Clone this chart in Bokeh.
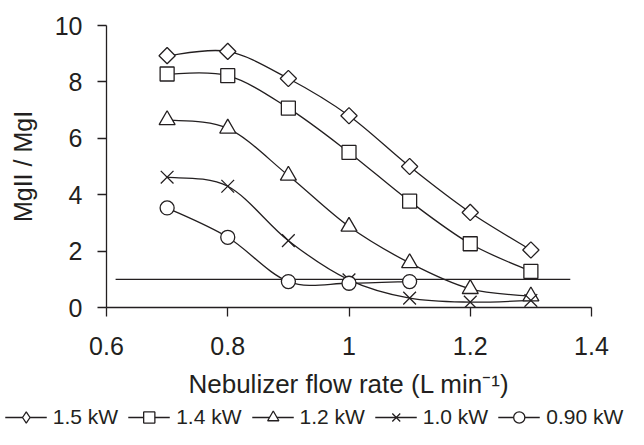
import numpy as np
from bokeh.plotting import figure
from bokeh.layouts import column
from bokeh.models import Range1d, FixedTicker, NumeralTickFormatter, Legend, LegendItem
from bokeh.embed import file_html
from bokeh.resources import INLINE

# ---- data ----
flow = [0.7, 0.8, 0.9, 1.0, 1.1, 1.2, 1.3]
kw15 = [8.93, 9.08, 8.12, 6.80, 5.00, 3.37, 2.04]
kw14 = [8.28, 8.22, 7.07, 5.50, 3.77, 2.26, 1.28]
kw12 = [6.65, 6.35, 4.68, 2.87, 1.58, 0.66, 0.40]
kw10 = [4.62, 4.30, 2.37, 0.98, 0.33, 0.19, 0.25]
flow09 = [0.7, 0.8, 0.9, 1.0, 1.1]
kw09 = [3.53, 2.49, 0.92, 0.86, 0.92]
ref_x = [0.615, 1.365]
ref_y = [1.0, 1.0]
labels = ["1.5 kW", "1.4 kW", "1.2 kW", "1.0 kW", "0.90 kW"]
x_ticks = [0.6, 0.8, 1.0, 1.2, 1.4]
y_ticks = [0, 2, 4, 6, 8, 10]

INK = "#231F20"
FONT = "Liberation Sans"


def smooth_segments(xs, ys):
    """Cubic Bezier control points (Catmull-Rom style, as in smoothed scatter lines)."""
    P = np.column_stack([xs, ys]).astype(float)
    n = len(P)
    x0, y0, x1, y1, cx0, cy0, cx1, cy1 = ([] for _ in range(8))
    for i in range(n - 1):
        p0 = P[i - 1] if i > 0 else P[i]
        p1 = P[i]
        p2 = P[i + 1]
        p3 = P[i + 2] if i + 2 < n else P[i + 1]
        c0 = p1 + (p2 - p0) / 6.0
        c1 = p2 - (p3 - p1) / 6.0
        x0.append(p1[0]); y0.append(p1[1]); x1.append(p2[0]); y1.append(p2[1])
        cx0.append(c0[0]); cy0.append(c0[1]); cx1.append(c1[0]); cy1.append(c1[1])
    return dict(x0=x0, y0=y0, x1=x1, y1=y1, cx0=cx0, cy0=cy0, cx1=cx1, cy1=cy1)


p = figure(width=628, height=405, x_range=Range1d(0.6, 1.4), y_range=Range1d(0, 10),
           output_backend="svg", toolbar_location=None,
           min_border_left=106, min_border_right=37, min_border_top=25, min_border_bottom=98)
p.frame_align = False
p.outline_line_color = None
p.grid.visible = False
p.background_fill_color = "white"
p.border_fill_color = "white"

for ax in (p.xaxis[0], p.yaxis[0]):
    ax.axis_line_color = INK
    ax.axis_line_width = 1.3
    ax.major_tick_line_color = INK
    ax.major_tick_line_width = 1.3
    ax.major_tick_in = 0
    ax.major_tick_out = 9
    ax.minor_tick_line_color = None
    ax.major_label_text_font = FONT
    ax.major_label_text_font_size = "25px"
    ax.major_label_text_color = INK
    ax.axis_label_text_font = FONT
    ax.axis_label_text_font_style = "normal"
    ax.axis_label_text_color = INK

p.xaxis[0].ticker = FixedTicker(ticks=x_ticks)
p.xaxis[0].formatter = NumeralTickFormatter(format="0.[0]")
p.xaxis[0].major_label_standoff = 20
p.xaxis[0].axis_label = "Nebulizer flow rate (L min\u207b\u00b9)"
p.xaxis[0].axis_label_text_font_size = "26px"
p.xaxis[0].axis_label_standoff = 11

p.yaxis[0].ticker = FixedTicker(ticks=y_ticks)
p.yaxis[0].major_label_standoff = 15
p.yaxis[0].axis_label = "MgII / MgI"
p.yaxis[0].axis_label_text_font_size = "25px"
p.yaxis[0].axis_label_standoff = 15

# reference line at ratio 1
p.line(ref_x, ref_y, line_color=INK, line_width=1.3)

series = [(flow, kw15), (flow, kw14), (flow, kw12), (flow, kw10), (flow09, kw09)]
for xs, ys in series:
    p.bezier(**smooth_segments(xs, ys), line_color=INK, line_width=1.3)

mk_style = dict(line_color=INK, line_width=1.3, fill_color="white")
p.scatter(flow, kw15, marker="square", angle=np.pi / 4, size=11.5, **mk_style)
p.scatter(flow, kw14, marker="square", size=14, **mk_style)
p.scatter(flow, kw12, marker="triangle", size=16, **mk_style)
p.scatter(flow, kw10, marker="x", size=18, line_color=INK, line_width=1.3)
p.scatter(flow09, kw09, marker="circle", size=14, **mk_style)

# ---- legend strip below the chart ----
lg = figure(width=628, height=24, x_range=Range1d(0, 1), y_range=Range1d(0, 1),
            output_backend="svg", toolbar_location=None,
            x_axis_location=None, y_axis_location=None,
            min_border_left=0, min_border_right=0, min_border_top=0, min_border_bottom=0)
lg.frame_align = False
lg.outline_line_color = None
lg.grid.visible = False

nan = [float("nan")]
leg_line = lg.line(nan, nan, line_color=INK, line_width=1.3)
markers = ["diamond", "square", "triangle", "x", "circle"]
items = []
for lab, mk in zip(labels, markers):
    if mk == "x":
        r = lg.scatter(nan, nan, marker=mk, line_color=INK, line_width=1.3)
    else:
        r = lg.scatter(nan, nan, marker=mk, **mk_style)
    items.append(LegendItem(label=lab, renderers=[leg_line, r]))

legend = Legend(items=items, orientation="horizontal", location="center",
                glyph_width=42, glyph_height=28, label_standoff=6, spacing=10,
                padding=0, margin=0, border_line_color=None, background_fill_alpha=0,
                label_text_font=FONT, label_text_font_size="21px", label_text_color=INK)
lg.add_layout(legend)

layout = column(p, lg, spacing=0)
open("out.html", "w").write(file_html(layout, INLINE))
